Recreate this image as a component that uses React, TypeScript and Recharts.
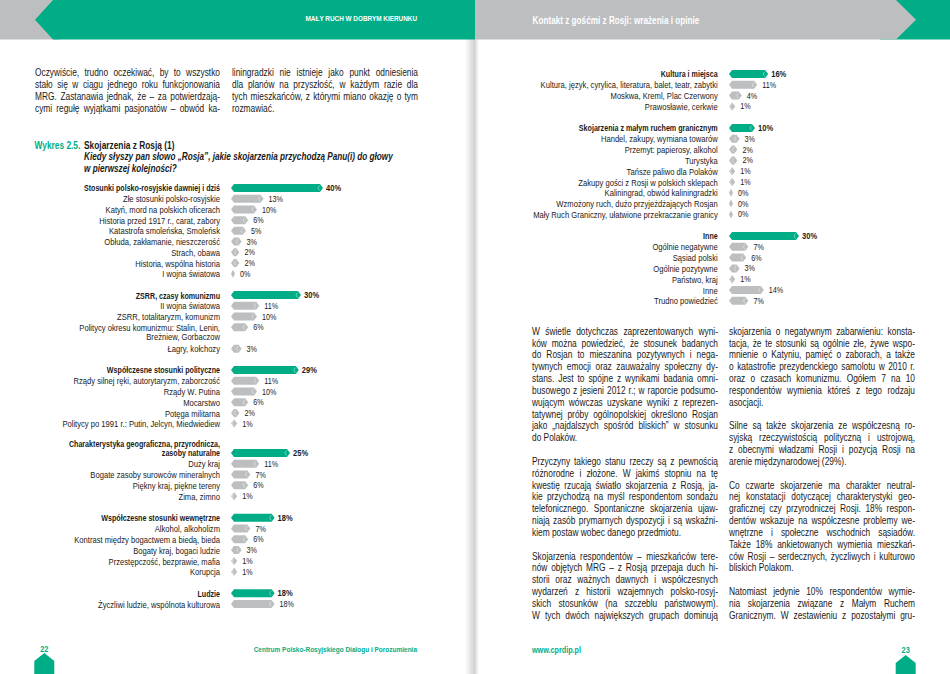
import React from "react";
import { BarChart, Bar, XAxis, YAxis } from "recharts";

const GREEN = "#00ad86";
const GRAY = "#bcbec0";
// no narrow face installed, so Liberation Sans gets squeezed horizontally
const FONT = '"Liberation Sans", Arial, sans-serif';
const SX = 0.82;

// Wykres 2.5, left page, first groups ("" = empty row between groups)
const leftTopLabels = [
  "Stosunki polsko-rosyjskie dawniej i dziś",
  "Złe stosunki polsko-rosyjskie",
  "Katyń, mord na polskich oficerach",
  "Historia przed 1917 r., carat, zabory",
  "Katastrofa smoleńska, Smoleńsk",
  "Obłuda, zakłamanie, nieszczerość",
  "Strach, obawa",
  "Historia, wspólna historia",
  "I wojna światowa",
  "",
  "ZSRR, czasy komunizmu",
  "II wojna światowa",
  "ZSRR, totalitaryzm, komunizm",
  "Politycy okresu komunizmu: Stalin, Lenin,\nBreżniew, Gorbaczow",
  "",
  "Łagry, kołchozy",
  "",
  "Współczesne stosunki polityczne",
  "Rządy silnej ręki, autorytaryzm, zaborczość",
  "Rządy W. Putina",
  "Mocarstwo",
  "Potęga militarna",
  "Politycy po 1991 r.: Putin, Jelcyn, Miedwiediew",
];
const leftTopValues = [40, 13, 10, 6, 5, 3, 2, 2, 0, null, 30, 11, 10, 6, null, 3, null, 29, 11, 10, 6, 2, 1];
const leftTopHeads = [0, 10, 17];

// left page, remaining groups
const leftBottomLabels = [
  "Charakterystyka geograficzna, przyrodnicza,\nzasoby naturalne",
  "Duży kraj",
  "Bogate zasoby surowców mineralnych",
  "Piękny kraj, piękne tereny",
  "Zima, zimno",
  "",
  "Współczesne stosunki wewnętrzne",
  "Alkohol, alkoholizm",
  "Kontrast między bogactwem a biedą, bieda",
  "Bogaty kraj, bogaci ludzie",
  "Przestępczość, bezprawie, mafia",
  "Korupcja",
  "",
  "Ludzie",
  "Życzliwi ludzie, wspólnota kulturowa",
];
const leftBottomValues = [25, 11, 7, 6, 1, null, 18, 7, 6, 3, 1, 1, null, 18, 18];
const leftBottomHeads = [0, 6, 13];

// right page
const rightLabels = [
  "Kultura i miejsca",
  "Kultura, język, cyrylica, literatura, balet, teatr, zabytki",
  "Moskwa, Kreml, Plac Czerwony",
  "Prawosławie, cerkwie",
  "",
  "Skojarzenia z małym ruchem granicznym",
  "Handel, zakupy, wymiana towarów",
  "Przemyt: papierosy, alkohol",
  "Turystyka",
  "Tańsze paliwo dla Polaków",
  "Zakupy gości z Rosji w polskich sklepach",
  "Kaliningrad, obwód kaliningradzki",
  "Wzmożony ruch, dużo przyjeżdżających Rosjan",
  "Mały Ruch Graniczny, ułatwione przekraczanie granicy",
  "",
  "Inne",
  "Ogólnie negatywne",
  "Sąsiad polski",
  "Ogólnie pozytywne",
  "Państwo, kraj",
  "Inne",
  "Trudno powiedzieć",
];
const rightValues = [16, 11, 4, 1, null, 10, 3, 2, 2, 1, 1, 0, 0, 0, null, 30, 7, 6, 3, 1, 14, 7];
const rightHeads = [0, 5, 15];

const leftCol1 = [
  "Oczywiście, trudno oczekiwać, by to wszystko",
  "stało się w ciągu jednego roku funkcjonowania",
  "MRG. Zastanawia jednak, że – za potwierdzają-",
  "cymi regułę wyjątkami pasjonatów – obwód ka-",
];
const leftCol2 = [
  "liningradzki nie istnieje jako punkt odniesienia",
  "dla planów na przyszłość, w każdym razie dla",
  "tych mieszkańców, z którymi miano okazję o tym",
  "rozmawiać.",
];
const rightCol1 = [
  "W świetle dotychczas zaprezentowanych wyni-",
  "ków można powiedzieć, że stosunek badanych",
  "do Rosjan to mieszanina pozytywnych i nega-",
  "tywnych emocji oraz zauważalny społeczny dy-",
  "stans. Jest to spójne z wynikami badania omni-",
  "busowego z jesieni 2012 r.; w raporcie podsumo-",
  "wującym wówczas uzyskane wyniki z reprezen-",
  "tatywnej próby ogólnopolskiej określono Rosjan",
  "jako „najdalszych spośród bliskich” w stosunku",
  "do Polaków.",
  "",
  "Przyczyny takiego stanu rzeczy są z pewnością",
  "różnorodne i złożone. W jakimś stopniu na tę",
  "kwestię rzucają światło skojarzenia z Rosją, ja-",
  "kie przychodzą na myśl respondentom sondażu",
  "telefonicznego. Spontaniczne skojarzenia ujaw-",
  "niają zasób prymarnych dyspozycji i są wskaźni-",
  "kiem postaw wobec danego przedmiotu.",
  "",
  "Skojarzenia respondentów – mieszkańców tere-",
  "nów objętych MRG – z Rosją przepaja duch hi-",
  "storii oraz ważnych dawnych i współczesnych",
  "wydarzeń z historii wzajemnych polsko-rosyj-",
  "skich stosunków (na szczeblu państwowym).",
  "W tych dwóch największych grupach dominują",
];
const rightCol2 = [
  "skojarzenia o negatywnym zabarwieniu: konsta-",
  "tacja, że te stosunki są ogólnie złe, żywe wspo-",
  "mnienie o Katyniu, pamięć o zaborach, a także",
  "o katastrofie prezydenckiego samolotu w 2010 r.",
  "oraz o czasach komunizmu. Ogółem 7 na 10",
  "respondentów wymienia któreś z tego rodzaju",
  "asocjacji.",
  "",
  "Silne są także skojarzenia ze współczesną ro-",
  "syjską rzeczywistością polityczną i ustrojową,",
  "z obecnymi władzami Rosji i pozycją Rosji na",
  "arenie międzynarodowej (29%).",
  "",
  "Co czwarte skojarzenie ma charakter neutral-",
  "nej konstatacji dotyczącej charakterystyki geo-",
  "graficznej czy przyrodniczej Rosji. 18% respon-",
  "dentów wskazuje na współczesne problemy we-",
  "wnętrzne i społeczne wschodnich sąsiadów.",
  "Także 18% ankietowanych wymienia mieszkań-",
  "ców Rosji – serdecznych, życzliwych i kulturowo",
  "bliskich Polakom.",
  "",
  "Natomiast jedynie 10% respondentów wymie-",
  "nia skojarzenia związane z Małym Ruchem",
  "Granicznym. W zestawieniu z pozostałymi gru-",
];

type Row = { key: string; label: string; value: number | null; head: boolean };

function buildRows(prefix: string, labels: string[], values: (number | null)[], heads: number[]): Row[] {
  return labels.map((label, i) => ({
    key: prefix + i,
    label,
    value: values[i],
    head: heads.includes(i),
  }));
}

const PX_PER_PCT = 2.2;
const LABEL_LH = 9.2;

// narrow svg text: squeezed around its anchor point
function NText({ x, y, size, bold, italic, fill = "#1a1a1a", anchor = "start", children }: any) {
  return (
    <g transform={`translate(${x},${y}) scale(${SX},1)`}>
      <text
        x={0}
        y={0}
        dy="0.35em"
        textAnchor={anchor}
        fontFamily={FONT}
        fontSize={size}
        fontWeight={bold ? 700 : 400}
        fontStyle={italic ? "italic" : "normal"}
        fill={fill}
      >
        {children}
      </text>
    </g>
  );
}

function renderBar(props: any) {
  const { x, y, width, height, payload } = props;
  if (!payload || payload.value == null) return <g />;
  const x0 = x - 2;
  const x1 = x + Math.max(0, width) + 2;
  const cy = y + height / 2;
  const tip = Math.min(3, (x1 - x0) / 2);
  const pts = [
    [x0, cy], [x0 + tip, y], [x1 - tip, y], [x1, cy], [x1 - tip, y + height], [x0 + tip, y + height],
  ].map((p) => p.join(",")).join(" ");
  return (
    <g>
      <polygon points={pts} fill={payload.head ? GREEN : GRAY} />
      {x1 - x0 > 6 && (
        <polyline
          points={`${x1 - 3.5},${cy - 2.5} ${x1 - 5},${cy} ${x1 - 3.5},${cy + 2.5}`}
          fill="none"
          stroke="#ffffff"
          strokeOpacity={0.55}
          strokeWidth={0.8}
        />
      )}
      <NText x={x1 + (payload.head ? 3 : 5)} y={cy} size={payload.head ? 9.2 : 8.8} bold={payload.head}>
        {payload.value}%
      </NText>
    </g>
  );
}

function HBarChart({ rows, left, top, axisWidth, labelX, pitch, marginTop }: {
  rows: Row[]; left: number; top: number; axisWidth: number; labelX: number; pitch: number; marginTop: number;
}) {
  const byKey = new Map(rows.map((r) => [r.key, r]));
  const plotH = rows.length * pitch;
  const width = axisWidth + 100 * PX_PER_PCT;

  const Tick = (p: any) => {
    const row = byKey.get(p.payload?.value);
    if (!row || !row.label) return <g />;
    const lines = row.label.split("\n");
    // headers with two lines keep the last line on the bar, others the first
    const shift = row.head ? -(lines.length - 1) * LABEL_LH : 0;
    return (
      <g>
        {lines.map((ln, i) => (
          <NText key={i} x={labelX} y={p.y + shift + i * LABEL_LH} size={row.head ? 8.7 : 9.3} bold={row.head} anchor="end">
            {ln}
          </NText>
        ))}
      </g>
    );
  };

  return (
    <div style={{ position: "absolute", left, top: top - marginTop }}>
      <BarChart
        layout="vertical"
        width={width}
        height={plotH + marginTop}
        data={rows}
        margin={{ top: marginTop, right: 0, bottom: 0, left: 0 }}
        barSize={8}
      >
        <XAxis type="number" domain={[0, 100]} hide />
        <YAxis
          type="category"
          dataKey="key"
          width={axisWidth}
          axisLine={false}
          tickLine={false}
          interval={0}
          tick={<Tick />}
        />
        <Bar dataKey="value" isAnimationActive={false} shape={renderBar} />
      </BarChart>
    </div>
  );
}

function TextColumn({ lines, left, top, width, lh }: { lines: string[]; left: number; top: number; width: number; lh: number }) {
  const w = width / SX;
  return (
    <div style={{ position: "absolute", left, top, width: w, transform: `scaleX(${SX})`, transformOrigin: "0 0", fontFamily: FONT, fontSize: 10.2, color: "#1a1a1a", lineHeight: `${lh}px` }}>
      {lines.map((ln, i) => {
        if (!ln) return <div key={i} style={{ height: lh }} />;
        const next = lines[i + 1];
        const justify = next ? true : next === undefined && !ln.endsWith(".");
        if (!justify) return <div key={i} style={{ height: lh, whiteSpace: "pre" }}>{ln}</div>;
        return (
          <div key={i} style={{ height: lh, display: "flex", justifyContent: "space-between", gap: 2, whiteSpace: "pre" }}>
            {ln.split(" ").map((word, j) => <span key={j}>{word}</span>)}
          </div>
        );
      })}
    </div>
  );
}

function House({ x, y }: { x: number; y: number }) {
  return <polygon points={`${x},${y + 8} ${x + 10},${y} ${x + 20},${y + 8} ${x + 20},${y + 22} ${x},${y + 22}`} fill={GREEN} />;
}

export default function App() {
  const topRows = buildRows("a", leftTopLabels, leftTopValues, leftTopHeads);
  const bottomRows = buildRows("b", leftBottomLabels, leftBottomValues, leftBottomHeads);
  const rRows = buildRows("c", rightLabels, rightValues, rightHeads);
  const lh = 11.83;

  return (
    <div style={{ position: "absolute", left: 0, top: 0, width: 950, height: 674, overflow: "hidden", background: "#fff" }}>
      <svg width={950} height={674} style={{ position: "absolute", left: 0, top: 0 }}>
        <defs>
          <linearGradient id="gutterL" x1="0" x2="1" y1="0" y2="0">
            <stop offset="0" stopColor="#ffffff" />
            <stop offset="1" stopColor="#cfd0d2" />
          </linearGradient>
          <linearGradient id="gutterR" x1="0" x2="1" y1="0" y2="0">
            <stop offset="0" stopColor="#d6d7d9" />
            <stop offset="1" stopColor="#ffffff" />
          </linearGradient>
        </defs>
        <rect x={465} y={0} width={10} height={674} fill="url(#gutterL)" />
        <rect x={475} y={0} width={4} height={674} fill="url(#gutterR)" />
        {/* headers */}
        <rect x={0} y={0} width={60} height={39.5} fill={GRAY} />
        <polygon points="53,0 475,0 475,39.5 53,39.5 35,19.7" fill={GREEN} />
        <rect x={880} y={0} width={70} height={39.5} fill={GREEN} />
        <polygon points="475,0 896,0 916,19.7 896,39.5 475,39.5" fill={GRAY} />
        <NText x={417} y={18.7} size={7.8} bold fill="#fff" anchor="end">MAŁY RUCH W DOBRYM KIERUNKU</NText>
        <NText x={532.5} y={20} size={10} bold fill="#fff">Kontakt z gośćmi z Rosji: wrażenia i opinie</NText>
        {/* chart title */}
        <NText x={34.5} y={145} size={10.2} bold fill={GREEN}>Wykres 2.5.</NText>
        <NText x={84} y={145} size={10.2} bold>Skojarzenia z Rosją (1)</NText>
        <NText x={84} y={156.5} size={10} bold italic>
          Kiedy słyszy pan słowo „Rosja”, jakie skojarzenia przychodzą Panu(i) do głowy
        </NText>
        <NText x={84} y={168.5} size={10} bold italic>w pierwszej kolejności?</NText>
        {/* footers */}
        <NText x={44.3} y={649} size={9} bold fill={GREEN} anchor="middle">22</NText>
        <House x={34.3} y={653} />
        <NText x={417} y={649.5} size={7.9} bold fill={GREEN} anchor="end">
          Centrum Polsko-Rosyjskiego Dialogu i Porozumienia
        </NText>
        <NText x={532} y={650} size={8.8} bold fill={GREEN}>www.cprdip.pl</NText>
        <NText x={905.7} y={649.5} size={9} bold fill={GREEN} anchor="middle">23</NText>
        <House x={895.7} y={655} />
      </svg>

      <TextColumn lines={leftCol1} left={34.5} top={73 - lh / 2} width={185} lh={lh} />
      <TextColumn lines={leftCol2} left={232} top={73 - lh / 2} width={186} lh={lh} />
      <TextColumn lines={rightCol1} left={531.5} top={331.7 - lh / 2} width={186} lh={lh} />
      <TextColumn lines={rightCol2} left={729} top={331.7 - lh / 2} width={186} lh={lh} />

      <HBarChart rows={topRows} left={0} top={188.3 - 10.71 / 2} axisWidth={233} labelX={220} pitch={10.71} marginTop={0} />
      <HBarChart rows={bottomRows} left={0} top={453.3 - 10.79 / 2} axisWidth={233} labelX={220} pitch={10.79} marginTop={14} />
      <HBarChart rows={rRows} left={475} top={74 - 10.8 / 2} axisWidth={256} labelX={242.7} pitch={10.8} marginTop={0} />
    </div>
  );
}
